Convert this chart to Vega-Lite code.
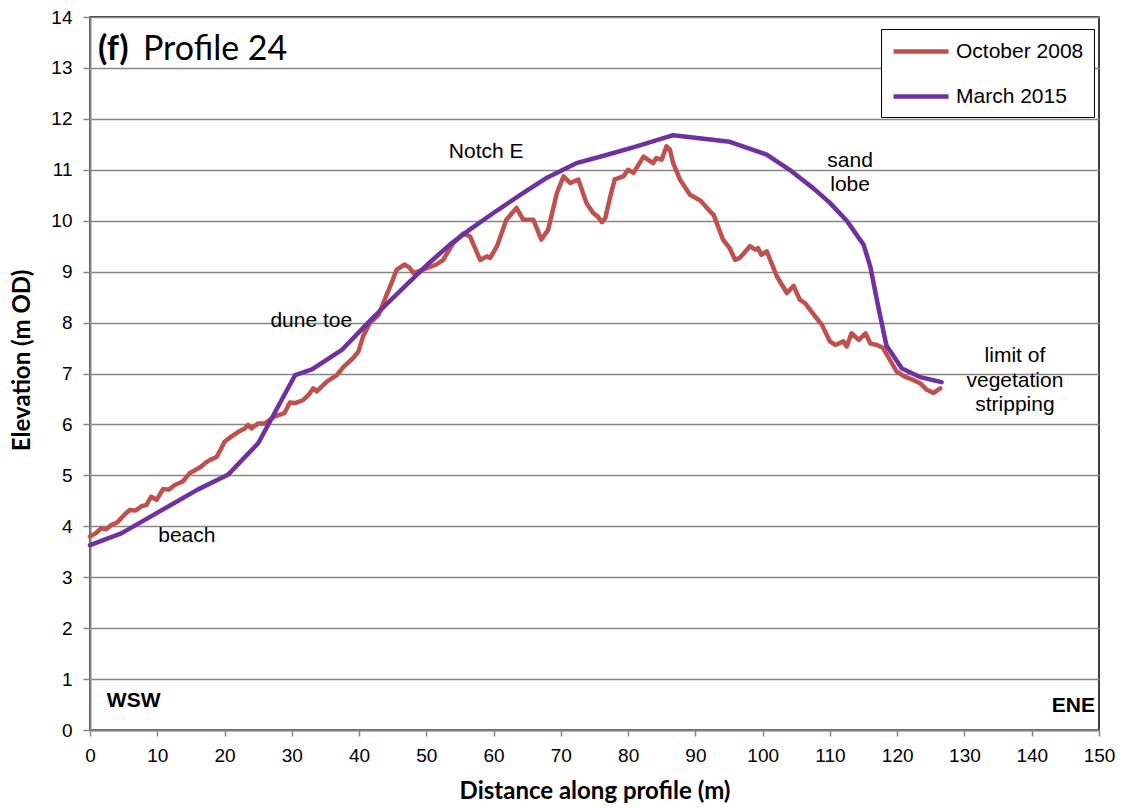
{
  "$schema": "https://vega.github.io/schema/vega-lite/v6.json",
  "width": 1009,
  "height": 713,
  "autosize": {"type": "none"},
  "padding": {"left": 90, "top": 17, "right": 24, "bottom": 78},
  "background": "#ffffff",
  "config": {
    "view": {"stroke": "#000000", "strokeWidth": 1.5},
    "axis": {
      "domainColor": "#868686", "domainWidth": 2,
      "tickColor": "#868686", "tickWidth": 1.5, "tickSize": 6,
      "labelFont": "Liberation Sans", "labelFontSize": 19, "labelColor": "#000000", "labelFlush": false,
      "titleFont": "Lato", "titleFontSize": 24, "titleFontWeight": "bold", "titleColor": "#000000"
    }
  },
  "datasets": {
    "profiles": [
      {"d": 0, "e": 3.80, "s": "October 2008"},
      {"d": 0.8, "e": 3.86, "s": "October 2008"},
      {"d": 1.7, "e": 3.96, "s": "October 2008"},
      {"d": 2.4, "e": 3.94, "s": "October 2008"},
      {"d": 3.2, "e": 4.03, "s": "October 2008"},
      {"d": 4.0, "e": 4.07, "s": "October 2008"},
      {"d": 4.65, "e": 4.16, "s": "October 2008"},
      {"d": 5.3, "e": 4.25, "s": "October 2008"},
      {"d": 5.9, "e": 4.32, "s": "October 2008"},
      {"d": 6.8, "e": 4.31, "s": "October 2008"},
      {"d": 7.6, "e": 4.39, "s": "October 2008"},
      {"d": 8.4, "e": 4.42, "s": "October 2008"},
      {"d": 9.1, "e": 4.58, "s": "October 2008"},
      {"d": 9.9, "e": 4.52, "s": "October 2008"},
      {"d": 10.85, "e": 4.73, "s": "October 2008"},
      {"d": 11.7, "e": 4.72, "s": "October 2008"},
      {"d": 12.6, "e": 4.81, "s": "October 2008"},
      {"d": 13.8, "e": 4.88, "s": "October 2008"},
      {"d": 14.8, "e": 5.04, "s": "October 2008"},
      {"d": 15.6, "e": 5.10, "s": "October 2008"},
      {"d": 16.5, "e": 5.17, "s": "October 2008"},
      {"d": 17.2, "e": 5.25, "s": "October 2008"},
      {"d": 17.8, "e": 5.30, "s": "October 2008"},
      {"d": 18.8, "e": 5.36, "s": "October 2008"},
      {"d": 19.4, "e": 5.50, "s": "October 2008"},
      {"d": 20.0, "e": 5.66, "s": "October 2008"},
      {"d": 21.0, "e": 5.76, "s": "October 2008"},
      {"d": 22.0, "e": 5.85, "s": "October 2008"},
      {"d": 23.0, "e": 5.92, "s": "October 2008"},
      {"d": 23.5, "e": 5.99, "s": "October 2008"},
      {"d": 24.0, "e": 5.92, "s": "October 2008"},
      {"d": 25.0, "e": 6.02, "s": "October 2008"},
      {"d": 26.0, "e": 6.02, "s": "October 2008"},
      {"d": 27.5, "e": 6.16, "s": "October 2008"},
      {"d": 28.9, "e": 6.22, "s": "October 2008"},
      {"d": 29.7, "e": 6.43, "s": "October 2008"},
      {"d": 30.5, "e": 6.42, "s": "October 2008"},
      {"d": 31.7, "e": 6.48, "s": "October 2008"},
      {"d": 32.5, "e": 6.58, "s": "October 2008"},
      {"d": 33.2, "e": 6.71, "s": "October 2008"},
      {"d": 33.7, "e": 6.65, "s": "October 2008"},
      {"d": 35.2, "e": 6.84, "s": "October 2008"},
      {"d": 36.7, "e": 6.97, "s": "October 2008"},
      {"d": 37.7, "e": 7.13, "s": "October 2008"},
      {"d": 39.1, "e": 7.30, "s": "October 2008"},
      {"d": 39.9, "e": 7.43, "s": "October 2008"},
      {"d": 40.6, "e": 7.73, "s": "October 2008"},
      {"d": 41.6, "e": 7.99, "s": "October 2008"},
      {"d": 42.9, "e": 8.15, "s": "October 2008"},
      {"d": 43.9, "e": 8.48, "s": "October 2008"},
      {"d": 44.8, "e": 8.77, "s": "October 2008"},
      {"d": 45.6, "e": 9.04, "s": "October 2008"},
      {"d": 46.8, "e": 9.14, "s": "October 2008"},
      {"d": 47.5, "e": 9.08, "s": "October 2008"},
      {"d": 48.1, "e": 8.97, "s": "October 2008"},
      {"d": 49.5, "e": 9.04, "s": "October 2008"},
      {"d": 51.5, "e": 9.14, "s": "October 2008"},
      {"d": 52.5, "e": 9.23, "s": "October 2008"},
      {"d": 54.0, "e": 9.56, "s": "October 2008"},
      {"d": 55.5, "e": 9.75, "s": "October 2008"},
      {"d": 56.5, "e": 9.69, "s": "October 2008"},
      {"d": 58.0, "e": 9.23, "s": "October 2008"},
      {"d": 59.0, "e": 9.30, "s": "October 2008"},
      {"d": 59.5, "e": 9.27, "s": "October 2008"},
      {"d": 60.5, "e": 9.50, "s": "October 2008"},
      {"d": 61.9, "e": 10.02, "s": "October 2008"},
      {"d": 63.4, "e": 10.25, "s": "October 2008"},
      {"d": 64.4, "e": 10.02, "s": "October 2008"},
      {"d": 65.9, "e": 10.02, "s": "October 2008"},
      {"d": 67.1, "e": 9.63, "s": "October 2008"},
      {"d": 68.1, "e": 9.82, "s": "October 2008"},
      {"d": 69.4, "e": 10.54, "s": "October 2008"},
      {"d": 70.4, "e": 10.87, "s": "October 2008"},
      {"d": 71.4, "e": 10.74, "s": "October 2008"},
      {"d": 72.6, "e": 10.81, "s": "October 2008"},
      {"d": 73.8, "e": 10.35, "s": "October 2008"},
      {"d": 74.8, "e": 10.15, "s": "October 2008"},
      {"d": 75.5, "e": 10.08, "s": "October 2008"},
      {"d": 76.1, "e": 9.97, "s": "October 2008"},
      {"d": 76.6, "e": 10.05, "s": "October 2008"},
      {"d": 77.3, "e": 10.45, "s": "October 2008"},
      {"d": 78.0, "e": 10.81, "s": "October 2008"},
      {"d": 79.3, "e": 10.87, "s": "October 2008"},
      {"d": 80.0, "e": 11.0, "s": "October 2008"},
      {"d": 80.8, "e": 10.94, "s": "October 2008"},
      {"d": 82.3, "e": 11.26, "s": "October 2008"},
      {"d": 83.7, "e": 11.13, "s": "October 2008"},
      {"d": 84.2, "e": 11.23, "s": "October 2008"},
      {"d": 85.0, "e": 11.2, "s": "October 2008"},
      {"d": 85.7, "e": 11.46, "s": "October 2008"},
      {"d": 86.2, "e": 11.40, "s": "October 2008"},
      {"d": 86.7, "e": 11.13, "s": "October 2008"},
      {"d": 87.7, "e": 10.81, "s": "October 2008"},
      {"d": 89.2, "e": 10.51, "s": "October 2008"},
      {"d": 90.7, "e": 10.40, "s": "October 2008"},
      {"d": 92.2, "e": 10.18, "s": "October 2008"},
      {"d": 92.7, "e": 10.12, "s": "October 2008"},
      {"d": 94.1, "e": 9.63, "s": "October 2008"},
      {"d": 95.1, "e": 9.46, "s": "October 2008"},
      {"d": 95.9, "e": 9.23, "s": "October 2008"},
      {"d": 96.6, "e": 9.27, "s": "October 2008"},
      {"d": 98.1, "e": 9.50, "s": "October 2008"},
      {"d": 98.9, "e": 9.43, "s": "October 2008"},
      {"d": 99.3, "e": 9.46, "s": "October 2008"},
      {"d": 99.8, "e": 9.33, "s": "October 2008"},
      {"d": 100.6, "e": 9.40, "s": "October 2008"},
      {"d": 102.1, "e": 8.91, "s": "October 2008"},
      {"d": 103.6, "e": 8.58, "s": "October 2008"},
      {"d": 104.6, "e": 8.72, "s": "October 2008"},
      {"d": 105.5, "e": 8.45, "s": "October 2008"},
      {"d": 106.3, "e": 8.38, "s": "October 2008"},
      {"d": 107.8, "e": 8.12, "s": "October 2008"},
      {"d": 108.8, "e": 7.96, "s": "October 2008"},
      {"d": 110.0, "e": 7.63, "s": "October 2008"},
      {"d": 110.8, "e": 7.56, "s": "October 2008"},
      {"d": 112.0, "e": 7.63, "s": "October 2008"},
      {"d": 112.5, "e": 7.53, "s": "October 2008"},
      {"d": 113.2, "e": 7.79, "s": "October 2008"},
      {"d": 114.3, "e": 7.66, "s": "October 2008"},
      {"d": 115.3, "e": 7.79, "s": "October 2008"},
      {"d": 116.0, "e": 7.59, "s": "October 2008"},
      {"d": 117.0, "e": 7.56, "s": "October 2008"},
      {"d": 117.9, "e": 7.50, "s": "October 2008"},
      {"d": 118.9, "e": 7.27, "s": "October 2008"},
      {"d": 119.9, "e": 7.04, "s": "October 2008"},
      {"d": 121.1, "e": 6.94, "s": "October 2008"},
      {"d": 122.3, "e": 6.88, "s": "October 2008"},
      {"d": 123.4, "e": 6.81, "s": "October 2008"},
      {"d": 124.4, "e": 6.68, "s": "October 2008"},
      {"d": 125.4, "e": 6.62, "s": "October 2008"},
      {"d": 126.4, "e": 6.71, "s": "October 2008"},
      {"d": 0, "e": 3.63, "s": "March 2015"},
      {"d": 4.65, "e": 3.86, "s": "March 2015"},
      {"d": 9.0, "e": 4.19, "s": "March 2015"},
      {"d": 16.0, "e": 4.72, "s": "March 2015"},
      {"d": 20.5, "e": 5.01, "s": "March 2015"},
      {"d": 25.0, "e": 5.63, "s": "March 2015"},
      {"d": 30.5, "e": 6.97, "s": "March 2015"},
      {"d": 33.0, "e": 7.08, "s": "March 2015"},
      {"d": 37.5, "e": 7.47, "s": "March 2015"},
      {"d": 41.0, "e": 7.95, "s": "March 2015"},
      {"d": 44.0, "e": 8.35, "s": "March 2015"},
      {"d": 47.5, "e": 8.80, "s": "March 2015"},
      {"d": 50.5, "e": 9.18, "s": "March 2015"},
      {"d": 53.5, "e": 9.53, "s": "March 2015"},
      {"d": 56.5, "e": 9.83, "s": "March 2015"},
      {"d": 60.5, "e": 10.2, "s": "March 2015"},
      {"d": 64.7, "e": 10.57, "s": "March 2015"},
      {"d": 68.0, "e": 10.85, "s": "March 2015"},
      {"d": 72.3, "e": 11.13, "s": "March 2015"},
      {"d": 76.5, "e": 11.28, "s": "March 2015"},
      {"d": 81.0, "e": 11.45, "s": "March 2015"},
      {"d": 86.7, "e": 11.68, "s": "March 2015"},
      {"d": 95.1, "e": 11.55, "s": "March 2015"},
      {"d": 100.6, "e": 11.30, "s": "March 2015"},
      {"d": 104.0, "e": 11.0, "s": "March 2015"},
      {"d": 107.5, "e": 10.64, "s": "March 2015"},
      {"d": 110.0, "e": 10.35, "s": "March 2015"},
      {"d": 112.5, "e": 10.0, "s": "March 2015"},
      {"d": 115.0, "e": 9.53, "s": "March 2015"},
      {"d": 116.0, "e": 9.10, "s": "March 2015"},
      {"d": 117.2, "e": 8.30, "s": "March 2015"},
      {"d": 118.4, "e": 7.55, "s": "March 2015"},
      {"d": 120.7, "e": 7.10, "s": "March 2015"},
      {"d": 123.4, "e": 6.93, "s": "March 2015"},
      {"d": 126.6, "e": 6.83, "s": "March 2015"}
    ],
    "labels": [
      {"x": 58.9, "y": 11.24, "t": "Notch E", "k": "c"},
      {"x": 32.9, "y": 7.92, "t": "dune toe", "k": "c"},
      {"x": 14.4, "y": 3.69, "t": "beach", "k": "c"},
      {"x": 113.0, "y": 11.06, "t": "sand", "k": "c"},
      {"x": 113.0, "y": 10.59, "t": "lobe", "k": "c"},
      {"x": 137.5, "y": 7.23, "t": "limit of", "k": "c"},
      {"x": 137.5, "y": 6.74, "t": "vegetation", "k": "c"},
      {"x": 137.5, "y": 6.27, "t": "stripping", "k": "c"},
      {"x": 2.5, "y": 0.45, "t": "WSW", "k": "bl"},
      {"x": 149.4, "y": 0.35, "t": "ENE", "k": "br"},
      {"x": 1.2, "y": 13.16, "t": "(f)", "k": "tb"},
      {"x": 7.88, "y": 13.16, "t": "Profile 24", "k": "tn"}
    ]
  },
  "layer": [
    {
      "data": {"name": "profiles"},
      "mark": {"type": "line", "strokeWidth": 4.5, "strokeJoin": "round", "strokeCap": "round"},
      "encoding": {
        "x": {"field": "d", "type": "quantitative", "scale": {"domain": [0, 150], "nice": false},
          "axis": {"values": [0,10,20,30,40,50,60,70,80,90,100,110,120,130,140,150], "grid": false,
            "title": "Distance along profile (m)", "labelPadding": 10, "titlePadding": 14}},
        "y": {"field": "e", "type": "quantitative", "scale": {"domain": [0, 14], "nice": false},
          "axis": {"values": [0,1,2,3,4,5,6,7,8,9,10,11,12,13,14], "grid": true, "gridColor": "#868686", "gridWidth": 1.5,
            "title": "Elevation (m OD)", "labelPadding": 11, "titlePadding": 16, "tickSize": 7, "titleY": 343}},
        "color": {"field": "s", "type": "nominal",
          "scale": {"domain": ["October 2008", "March 2015"], "range": ["#C0504D", "#7030A0"]},
          "legend": {"orient": "none", "legendX": 791, "legendY": 12, "title": null,
            "strokeColor": "#000000", "fillColor": "#ffffff", "padding": 10,
            "symbolType": "M-1,0H4.5", "symbolSize": 400, "symbolStrokeWidth": 4.5,
            "labelFont": "Liberation Sans", "labelFontSize": 21, "labelColor": "#000000",
            "labelOffset": 40, "rowPadding": 22}},
        "order": {"field": "d", "type": "quantitative"}
      }
    },
    {
      "data": {"name": "labels"},
      "transform": [{"filter": "datum.k == 'c'"}],
      "mark": {"type": "text", "align": "center", "baseline": "alphabetic", "font": "Liberation Sans", "fontSize": 21, "color": "#000000"},
      "encoding": {
        "x": {"field": "x", "type": "quantitative"},
        "y": {"field": "y", "type": "quantitative"},
        "text": {"field": "t"}
      }
    },
    {
      "data": {"name": "labels"},
      "transform": [{"filter": "datum.k == 'bl'"}],
      "mark": {"type": "text", "align": "left", "baseline": "alphabetic", "font": "Liberation Sans", "fontSize": 21, "fontWeight": "bold", "color": "#000000"},
      "encoding": {
        "x": {"field": "x", "type": "quantitative"},
        "y": {"field": "y", "type": "quantitative"},
        "text": {"field": "t"}
      }
    },
    {
      "data": {"name": "labels"},
      "transform": [{"filter": "datum.k == 'br'"}],
      "mark": {"type": "text", "align": "right", "baseline": "alphabetic", "font": "Liberation Sans", "fontSize": 21, "fontWeight": "bold", "color": "#000000"},
      "encoding": {
        "x": {"field": "x", "type": "quantitative"},
        "y": {"field": "y", "type": "quantitative"},
        "text": {"field": "t"}
      }
    },
    {
      "data": {"name": "labels"},
      "transform": [{"filter": "datum.k == 'tb'"}],
      "mark": {"type": "text", "align": "left", "baseline": "alphabetic", "font": "Lato", "fontSize": 34, "fontWeight": "bold", "color": "#000000"},
      "encoding": {
        "x": {"field": "x", "type": "quantitative"},
        "y": {"field": "y", "type": "quantitative"},
        "text": {"field": "t"}
      }
    },
    {
      "data": {"name": "labels"},
      "transform": [{"filter": "datum.k == 'tn'"}],
      "mark": {"type": "text", "align": "left", "baseline": "alphabetic", "font": "Lato", "fontSize": 34, "color": "#000000"},
      "encoding": {
        "x": {"field": "x", "type": "quantitative"},
        "y": {"field": "y", "type": "quantitative"},
        "text": {"field": "t"}
      }
    }
  ]
}
